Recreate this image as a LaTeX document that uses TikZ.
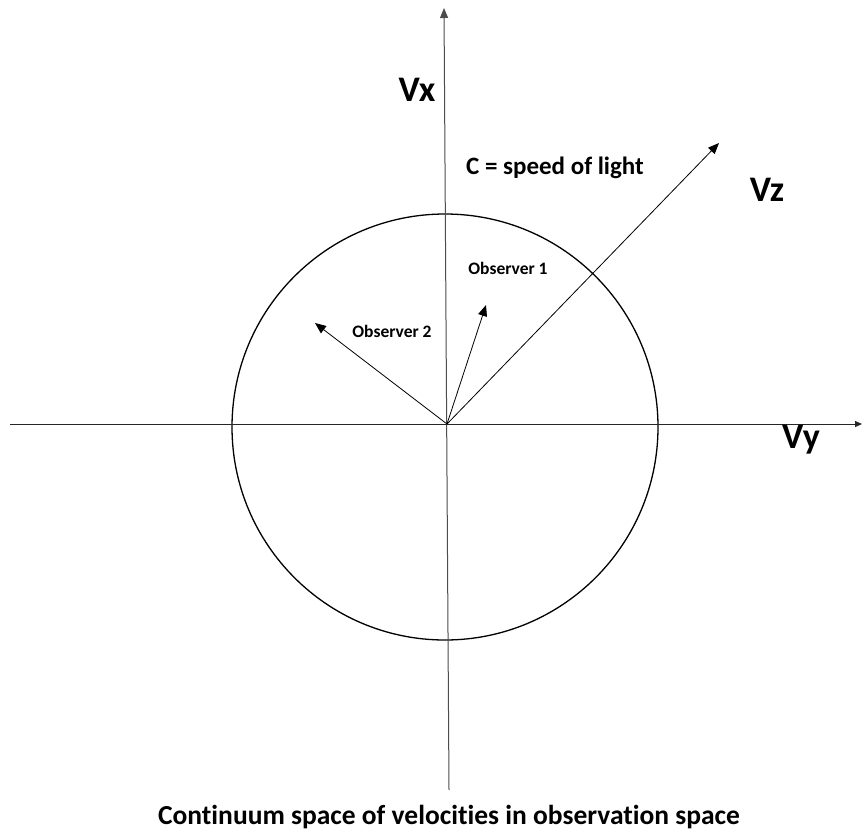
\documentclass[tikz,border=0pt]{standalone}
\usepackage{fontspec}
\setmainfont[Ligatures=NoCommon]{Carlito}
\usetikzlibrary{arrows.meta}

\begin{document}
\begin{tikzpicture}[x=1pt,y=-1pt,
  axis/.style={black!70, line width=1pt},
  vec/.style={black, line width=0.8pt, -{Triangle[length=11pt,width=9pt]}},
  biglab/.style={font=\bfseries\fontsize{36}{40}\selectfont},
  oblab/.style={font=\bfseries\fontsize{17.5}{20}\selectfont}]
\useasboundingbox (0,0) rectangle (864,831);
\coordinate (o) at (447,424);
\coordinate (xbot) at (449,790);
\coordinate (xtop) at (444,8);
\coordinate (yleft) at (10,424);
\coordinate (yright) at (862,424);
\coordinate (zend) at (719,143);
\coordinate (obsa) at (486,305);
\coordinate (obsb) at (315,323);
\draw[black, line width=1.3pt] (445,427) circle (213);
\draw[axis, -{Triangle[length=10pt,width=8pt]}] (xbot) -- (xtop);
\draw[axis, black!85, -{Triangle[length=7pt,width=6pt]}] (yleft) -- (yright);
\draw[vec] (o) -- (zend);
\draw[vec] (o) -- (obsa);
\draw[vec] (o) -- (obsb);
\node[biglab] (vx) at (417,90) {Vx};
\node[biglab] (vz) at (767,190) {Vz};
\node[biglab] (vy) at (801,440) {Vy};
\node[font=\bfseries\fontsize{25}{30}\selectfont] (clight) at (555,168) {C = speed of light};
\node[oblab] (oba) at (508,268) {Observer 1};
\node[oblab] (obb) at (392,331) {Observer 2};
\node[font=\bfseries\fontsize{27.5}{32}\selectfont] (caption) at (449,817) {Continuum space of velocities in observation space};
\end{tikzpicture}
\end{document}
